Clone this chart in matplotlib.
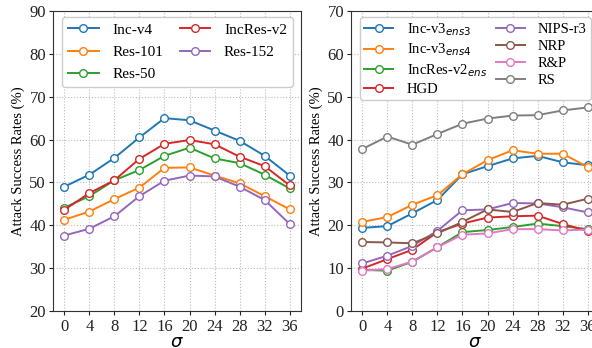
import matplotlib
matplotlib.use('Agg')
import matplotlib.pyplot as plt

# sigma values on the x axis
sigma = [0, 4, 8, 12, 16, 20, 24, 28, 32, 36]

# left panel: normally trained models
inc_v4 = [49.0, 51.8, 55.7, 60.5, 65.0, 64.5, 62.1, 59.7, 56.2, 51.6]
res_101 = [41.3, 43.2, 46.1, 48.8, 53.4, 53.5, 51.6, 49.8, 46.8, 43.7]
res_50 = [44.1, 46.8, 50.5, 52.9, 56.2, 58.1, 55.6, 54.5, 51.8, 48.6]
incres_v2 = [43.6, 47.5, 50.5, 55.5, 59.0, 59.9, 58.9, 56.0, 53.8, 49.3]
res_152 = [37.6, 39.2, 42.1, 46.8, 50.4, 51.6, 51.4, 49.0, 45.9, 40.3]

# right panel: defended models
inc_v3_ens3 = [19.4, 19.8, 22.8, 25.9, 31.9, 33.8, 35.6, 36.2, 34.7, 34.0]
inc_v3_ens4 = [20.8, 21.9, 24.8, 27.0, 31.9, 35.2, 37.5, 36.7, 36.7, 33.6]
incres_v2_ens = [9.6, 9.4, 11.5, 14.9, 18.4, 18.9, 19.6, 20.4, 19.8, 19.1]
hgd = [9.9, 12.1, 14.3, 18.4, 20.4, 21.8, 22.1, 22.25, 20.3, 18.7]
nips_r3 = [11.1, 12.9, 15.2, 18.7, 23.5, 23.7, 25.2, 25.1, 24.2, 23.0]
nrp = [16.1, 16.0, 15.8, 18.1, 20.8, 23.7, 23.1, 25.2, 24.8, 26.2]
r_and_p = [9.4, 9.8, 11.5, 14.9, 17.8, 18.1, 19.1, 19.1, 18.8, 19.0]
rs = [37.8, 40.7, 38.8, 41.3, 43.7, 44.9, 45.6, 45.7, 46.8, 47.5]

left_series = [('Inc-v4', inc_v4), ('Res-101', res_101), ('Res-50', res_50),
               ('IncRes-v2', incres_v2), ('Res-152', res_152)]
right_series = [(r'Inc-v3$_{ens3}$', inc_v3_ens3), (r'Inc-v3$_{ens4}$', inc_v3_ens4),
                (r'IncRes-v2$_{ens}$', incres_v2_ens), ('HGD', hgd),
                ('NIPS-r3', nips_r3), ('NRP', nrp), ('R&P', r_and_p), ('RS', rs)]
colours = ['tab:blue', 'tab:orange', 'tab:green', 'tab:red',
           'tab:purple', 'tab:brown', 'tab:pink', 'tab:gray']

plt.rcParams['font.family'] = ['Liberation Serif', 'DejaVu Serif']

fig = plt.figure(figsize=(5.92, 3.48), dpi=100)
ax1 = fig.add_axes([53/592, 37/348, 248/592, 300/348])
ax2 = fig.add_axes([351/592, 37/348, 248/592, 300/348])


def draw(ax, series, ylim, lsize, lspace, bpad):
	for i, (name, vals) in enumerate(series):
		ax.plot(sigma, vals, color=colours[i], marker='o', markersize=5.5,
		        markerfacecolor='white', markeredgewidth=1.0, linewidth=1.4,
		        label=name)
	ax.set_ylim(ylim)
	ax.set_xticks(sigma)
	ax.set_yticks(range(ylim[0], ylim[1] + 1, 10))
	ax.grid(True, linestyle=':', color='#bbbbbb', linewidth=0.8)
	ax.set_axisbelow(True)
	for sp in ax.spines.values():
		sp.set_color('#333333')
	ax.tick_params(colors='#222222', length=3, labelsize=12)
	ax.tick_params(axis='y', pad=2)
	ax.tick_params(axis='x', pad=3)
	ax.set_xlabel(r'$\sigma$', fontsize=13, labelpad=-1)
	ax.set_ylabel('Attack Success Rates (%)', fontsize=10.5, labelpad=3)
	ax.legend(ncol=2, loc='upper left', mode='expand',
	          bbox_to_anchor=(0.036, 0, 0.932, 0.98),
	          borderaxespad=0.0, fontsize=lsize, labelspacing=lspace,
	          borderpad=bpad, handlelength=2.0, handletextpad=0.9,
	          framealpha=1.0, edgecolor='#cccccc')


draw(ax1, left_series, (20, 90), 11, 0.55, 0.4)
draw(ax2, right_series, (0, 70), 10.5, 0.25, 0.3)

fig.savefig('out.png', dpi=100)
